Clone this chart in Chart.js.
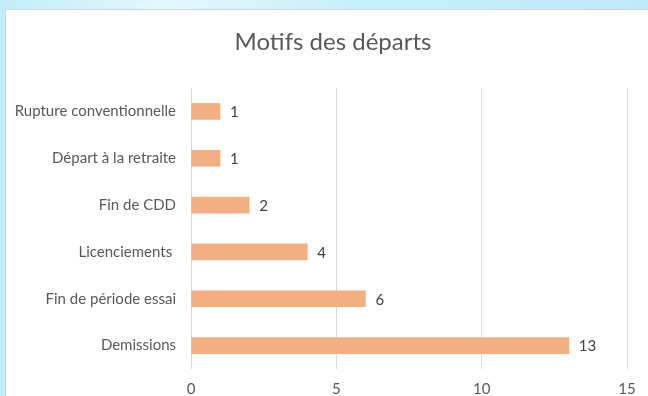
<!DOCTYPE html>
<html lang="fr">
<head>
    <meta charset="UTF-8">
    <title>Motifs des départs</title>
    <script src="https://cdn.jsdelivr.net/npm/chart.js@4.4.1/dist/chart.umd.min.js"></script>
    <style>
        html, body {
            margin: 0;
            width: 648px;
            height: 396px;
            overflow: hidden;
        }
        body {
            position: relative;
            background: linear-gradient(90deg, #c2ecfa 0%, #e3f7fd 25%, #c8eefb 55%, #bfeafa 100%);
        }
        .sheet {
            position: absolute;
            left: 5px;
            top: 9px;
            width: 660px;
            height: 400px;
            background: #ffffff;
            border-top: 1px solid #d4d4d4;
            border-left: 1px solid #d4d4d4;
        }
        .sheet canvas {
            position: absolute;
            left: 0;
            top: 0;
        }
    </style>
</head>
<body>
    <div class="sheet">
        <canvas id="motifs" width="654" height="400"></canvas>
    </div>

    <script>
        // Données
        const titre = 'Motifs des départs';
        const motifs = [
            'Rupture conventionnelle',
            'Départ à la retraite',
            'Fin de CDD',
            'Licenciements ',
            'Fin de période essai',
            'Demissions'
        ];
        const departs = [1, 1, 2, 4, 6, 13];
        const graduations = [0, 5, 10, 15];

        const textColor = '#595959';
        const fontFamily = 'Lato, "Open Sans", sans-serif';

        // Titre centré sur toute la zone du graphique (pas seulement la zone de tracé)
        const titreGraphique = {
            id: 'titreGraphique',
            afterDraw(chart) {
                const ctx = chart.ctx;
                ctx.save();
                ctx.fillStyle = textColor;
                ctx.font = '24px ' + fontFamily;
                ctx.textAlign = 'center';
                ctx.textBaseline = 'middle';
                ctx.fillText(titre, 327, 32);
                ctx.restore();
            }
        };

        // Valeur écrite à droite de chaque barre
        const valeursBarres = {
            id: 'valeursBarres',
            afterDatasetsDraw(chart) {
                const ctx = chart.ctx;
                const meta = chart.getDatasetMeta(0);
                ctx.save();
                ctx.fillStyle = '#404040';
                ctx.font = '15px ' + fontFamily;
                ctx.textAlign = 'left';
                ctx.textBaseline = 'middle';
                meta.data.forEach((bar, i) => {
                    ctx.fillText(String(departs[i]), bar.x + 10, bar.y + 1);
                });
                ctx.restore();
            }
        };

        new Chart(document.getElementById('motifs'), {
            type: 'bar',
            data: {
                labels: motifs,
                datasets: [{
                    label: 'Départs',
                    data: departs,
                    backgroundColor: '#f1af83',
                    borderWidth: 0,
                    barThickness: 16
                }]
            },
            options: {
                indexAxis: 'y',
                responsive: false,
                animation: false,
                layout: {
                    padding: { left: 0, right: 33, top: 78, bottom: 0 }
                },
                plugins: {
                    legend: { display: false },
                    tooltip: { enabled: false },
                    title: { display: false }
                },
                scales: {
                    x: {
                        min: graduations[0],
                        max: graduations[graduations.length - 1],
                        afterBuildTicks(scale) {
                            scale.ticks = graduations.map(v => ({ value: v }));
                        },
                        afterFit(scale) {
                            scale.height = 41;
                        },
                        grid: {
                            color: '#d9d9d9',
                            lineWidth: 1,
                            drawTicks: false
                        },
                        border: { display: false },
                        ticks: {
                            color: textColor,
                            padding: 11,
                            font: { family: fontFamily, size: 15 }
                        }
                    },
                    y: {
                        afterFit(scale) {
                            scale.width = 185;
                        },
                        grid: { display: false, drawTicks: false },
                        border: { display: false },
                        ticks: {
                            color: textColor,
                            padding: 15,
                            font: { family: fontFamily, size: 15 }
                        }
                    }
                }
            },
            plugins: [valeursBarres, titreGraphique]
        });
    </script>
</body>
</html>
